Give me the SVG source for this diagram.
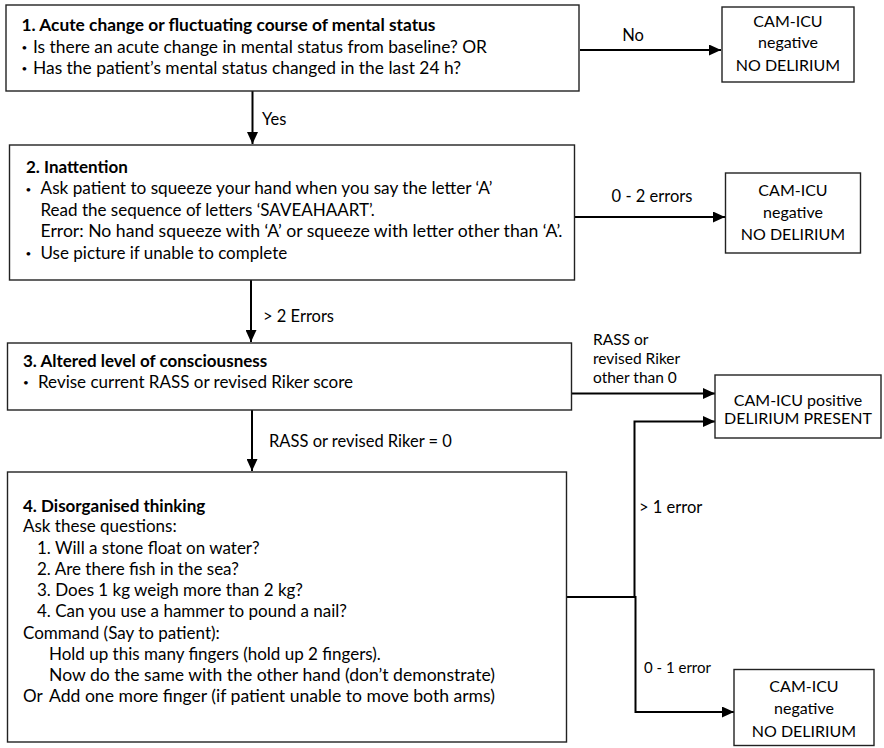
<svg xmlns="http://www.w3.org/2000/svg" width="884" height="748" viewBox="0 0 884 748">
<defs>
<marker id="ah" markerUnits="userSpaceOnUse" markerWidth="12" markerHeight="11" refX="12" refY="5.5" orient="auto">
<path d="M0,0 L12,5.5 L0,11 z" fill="#000"/>
</marker>
</defs>
<style>
.box{fill:#fff;stroke:#222;stroke-width:1.4}
text{font-family:Lato,"Open Sans","Liberation Sans",sans-serif;font-size:17px;fill:#000}
.b{font-weight:bold}
.c{text-anchor:middle;font-size:16px}
.l{font-size:16.5px}
.r{font-size:15.5px}
.s{font-size:15px}
.d{font-size:10px}
.cn{fill:none;stroke:#000;stroke-width:2}
</style>
<rect width="884" height="748" fill="#fff"/>
<g id="connectors">
<line class="cn" x1="252.5" y1="91" x2="252.5" y2="144" marker-end="url(#ah)"/>
<line class="cn" x1="580" y1="50" x2="721" y2="50" marker-end="url(#ah)"/>
<line class="cn" x1="575" y1="217" x2="725" y2="217" marker-end="url(#ah)"/>
<line class="cn" x1="251" y1="280" x2="251" y2="342" marker-end="url(#ah)"/>
<line class="cn" x1="572" y1="393.5" x2="715" y2="393.5" marker-end="url(#ah)"/>
<line class="cn" x1="252" y1="410" x2="252" y2="471" marker-end="url(#ah)"/>
<polyline class="cn" points="567,597 634.5,597 634.5,421.5 715,421.5" marker-end="url(#ah)"/>
<polyline class="cn" points="634.5,597 635.5,597 635.5,712 734,712" marker-end="url(#ah)"/>
<text x="262" y="125" class="l">Yes</text>
<text x="633" y="41" class="l" text-anchor="middle">No</text>
<text x="652" y="202" class="l" text-anchor="middle">0 - 2 errors</text>
<text x="263" y="322" class="l">&gt; 2 Errors</text>
<text x="593" y="344.5" class="r">RASS or</text>
<text x="593" y="363.5" class="r">revised Riker</text>
<text x="593" y="382.5" class="r">other than 0</text>
<text x="269" y="447" class="l">RASS or revised Riker = 0</text>
<text x="639" y="513" class="l">&gt; 1 error</text>
<text x="644" y="673" class="s">0 - 1 error</text>
</g>
<g id="step1">
<rect class="box" x="6" y="5" width="573" height="86"/>
<text x="21.5" y="31" class="b" textLength="414" lengthAdjust="spacingAndGlyphs">1. Acute change or fluctuating course of mental status</text>
<text x="21.5" y="51" class="d">•</text>
<text x="33" y="52.5" textLength="454" lengthAdjust="spacingAndGlyphs">Is there an acute change in mental status from baseline? OR</text>
<text x="21.5" y="72" class="d">•</text>
<text x="33" y="73.5" textLength="428" lengthAdjust="spacingAndGlyphs">Has the patient’s mental status changed in the last 24 h?</text>
</g>
<g id="neg1">
<rect class="box" x="722" y="7" width="132" height="75"/>
<text x="788" y="27" class="c">CAM-ICU</text>
<text x="788" y="48" class="c">negative</text>
<text x="788" y="71" class="c">NO DELIRIUM</text>
</g>
<g id="step2">
<rect class="box" x="9.5" y="145" width="565" height="135"/>
<text x="26" y="172.5" class="b">2. Inattention</text>
<text x="25.5" y="192.5" class="d">•</text>
<text x="40.5" y="194" textLength="452" lengthAdjust="spacingAndGlyphs">Ask patient to squeeze your hand when you say the letter ‘A’</text>
<text x="40.5" y="215.5">Read the sequence of letters ‘SAVEAHAART’.</text>
<text x="40.5" y="237" textLength="522" lengthAdjust="spacingAndGlyphs">Error: No hand squeeze with ‘A’ or squeeze with letter other than ‘A’.</text>
<text x="25.5" y="257" class="d">•</text>
<text x="40.5" y="258.5">Use picture if unable to complete</text>
</g>
<g id="neg2">
<rect class="box" x="725.5" y="173" width="135" height="80"/>
<text x="793" y="196" class="c">CAM-ICU</text>
<text x="793" y="218" class="c">negative</text>
<text x="793" y="240" class="c">NO DELIRIUM</text>
</g>
<g id="step3">
<rect class="box" x="7.5" y="343" width="564" height="67"/>
<text x="23" y="367" class="b">3. Altered level of consciousness</text>
<text x="23" y="386" class="d">•</text>
<text x="38" y="387.5">Revise current RASS or revised Riker score</text>
</g>
<g id="positive">
<rect class="box" x="715" y="375" width="166" height="63"/>
<text x="798" y="406" class="c">CAM-ICU positive</text>
<text x="798" y="423.5" class="c">DELIRIUM PRESENT</text>
</g>
<g id="step4">
<rect class="box" x="7.5" y="472" width="559" height="270"/>
<text x="23" y="512" class="b">4. Disorganised thinking</text>
<text x="23" y="532">Ask these questions:</text>
<text x="37" y="553.5">1. Will a stone float on water?</text>
<text x="37" y="574.5">2. Are there fish in the sea?</text>
<text x="37" y="596">3. Does 1 kg weigh more than 2 kg?</text>
<text x="37" y="617">4. Can you use a hammer to pound a nail?</text>
<text x="23" y="638.5">Command (Say to patient):</text>
<text x="49" y="660">Hold up this many fingers (hold up 2 fingers).</text>
<text x="49" y="681" textLength="446" lengthAdjust="spacingAndGlyphs">Now do the same with the other hand (don’t demonstrate)</text>
<text x="23" y="702">Or</text>
<text x="49" y="702" textLength="446" lengthAdjust="spacingAndGlyphs">Add one more finger (if patient unable to move both arms)</text>
</g>
<g id="neg3">
<rect class="box" x="734" y="669.5" width="140" height="76"/>
<text x="804" y="692" class="c">CAM-ICU</text>
<text x="804" y="713.5" class="c">negative</text>
<text x="804" y="737" class="c">NO DELIRIUM</text>
</g>
</svg>
